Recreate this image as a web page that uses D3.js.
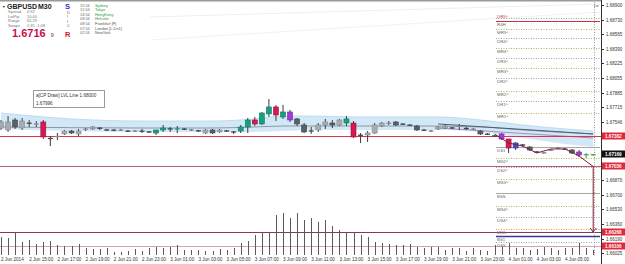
<!DOCTYPE html>
<html><head><meta charset="utf-8">
<script src="https://cdn.jsdelivr.net/npm/d3@7"></script>
<style>
body{margin:0;background:#fff;}
svg{display:block;font-family:"Liberation Sans",Arial,sans-serif;}
</style>
</head><body>
<svg id="c" width="625" height="264"></svg>
<script>
// ---------------- DATA ----------------
const opens  = [1.67474,1.67451,1.67567,1.67474,1.67532,1.67521,1.67544,1.67358,1.67370,1.67405,1.67439,1.67405,1.67457,1.67463,1.67474,1.67457,1.67451,1.67445,1.67439,1.67439,1.67439,1.67434,1.67416,1.67451,1.67469,1.67457,1.67463,1.67451,1.67445,1.67416,1.67451,1.67428,1.67445,1.67434,1.67439,1.67486,1.67567,1.67521,1.67637,1.67718,1.67602,1.67660,1.67579,1.67509,1.67445,1.67451,1.67509,1.67532,1.67509,1.67532,1.67532,1.67393,1.67393,1.67416,1.67497,1.67527,1.67544,1.67521,1.67509,1.67497,1.67451,1.67439,1.67463,1.67474,1.67480,1.67492,1.67474,1.67457,1.67439,1.67405,1.67387,1.67405,1.67347,1.67242,1.67283,1.67254,1.67202,1.67184,1.67213,1.67237,1.67231,1.67219,1.67196,1.67161,1.67161];
const highs  = [1.67567,1.67613,1.67590,1.67590,1.67567,1.67555,1.67567,1.67381,1.67416,1.67451,1.67451,1.67463,1.67474,1.67497,1.67486,1.67463,1.67463,1.67463,1.67451,1.67451,1.67463,1.67439,1.67451,1.67509,1.67486,1.67497,1.67474,1.67463,1.67451,1.67463,1.67463,1.67463,1.67451,1.67439,1.67509,1.67590,1.67602,1.67660,1.67810,1.67741,1.67741,1.67683,1.67590,1.67532,1.67486,1.67532,1.67579,1.67567,1.67579,1.67613,1.67555,1.67416,1.67439,1.67532,1.67544,1.67555,1.67555,1.67532,1.67521,1.67509,1.67463,1.67451,1.67497,1.67509,1.67486,1.67521,1.67486,1.67474,1.67451,1.67416,1.67393,1.67416,1.67347,1.67312,1.67289,1.67265,1.67207,1.67196,1.67231,1.67254,1.67242,1.67231,1.67219,1.67184,1.67173];
const lows   = [1.67451,1.67428,1.67463,1.67451,1.67486,1.67486,1.67347,1.67265,1.67335,1.67393,1.67405,1.67381,1.67439,1.67451,1.67451,1.67439,1.67439,1.67439,1.67428,1.67428,1.67416,1.67416,1.67393,1.67428,1.67428,1.67416,1.67451,1.67439,1.67428,1.67405,1.67405,1.67416,1.67428,1.67405,1.67416,1.67416,1.67497,1.67509,1.67602,1.67555,1.67579,1.67544,1.67497,1.67416,1.67405,1.67428,1.67463,1.67474,1.67497,1.67497,1.67358,1.67300,1.67312,1.67405,1.67486,1.67509,1.67497,1.67509,1.67497,1.67439,1.67439,1.67428,1.67451,1.67463,1.67463,1.67451,1.67451,1.67451,1.67393,1.67393,1.67370,1.67335,1.67184,1.67219,1.67254,1.67207,1.67184,1.67173,1.67207,1.67231,1.67219,1.67173,1.67138,1.67126,1.67149];
const closes = [1.67544,1.67544,1.67486,1.67555,1.67527,1.67521,1.67370,1.67347,1.67381,1.67439,1.67416,1.67439,1.67463,1.67486,1.67469,1.67445,1.67445,1.67451,1.67434,1.67439,1.67434,1.67422,1.67451,1.67474,1.67457,1.67469,1.67457,1.67451,1.67439,1.67451,1.67416,1.67451,1.67434,1.67422,1.67486,1.67567,1.67521,1.67648,1.67718,1.67625,1.67660,1.67567,1.67521,1.67428,1.67434,1.67509,1.67544,1.67509,1.67567,1.67579,1.67370,1.67387,1.67416,1.67509,1.67532,1.67532,1.67509,1.67515,1.67503,1.67451,1.67445,1.67439,1.67486,1.67497,1.67469,1.67497,1.67463,1.67463,1.67405,1.67399,1.67376,1.67347,1.67242,1.67300,1.67271,1.67219,1.67190,1.67190,1.67219,1.67242,1.67225,1.67184,1.67161,1.67167,1.67169];
const volumes = [720,680,880,520,600,440,520,560,400,360,360,440,280,240,240,280,120,120,160,240,160,280,320,280,320,400,200,200,200,160,160,240,200,280,480,560,800,880,920,1600,1680,1480,1680,1400,1480,1320,1400,1160,1000,880,920,800,720,520,480,440,400,400,440,320,280,320,320,200,280,280,160,280,200,160,400,320,480,280,280,200,240,320,280,200,280,280,480,280,200];
// special candle tones (index -> tone)
const candleTone = {6:'r',22:'t',23:'t',25:'t',34:'t',35:'t',36:'r',37:'t',38:'t',39:'r',40:'t',41:'p',49:'t',50:'r',71:'p',72:'r',73:'b',82:'p',83:'g',84:'g'};

// envelope band + averages (bar index, price)
const bandIdx   = [0,10,20,30,36,40,44,50,56,62,68,74,80,84];
const bandUpper = [1.67648,1.67579,1.67555,1.67555,1.67579,1.67613,1.67613,1.67602,1.67602,1.67602,1.67567,1.67509,1.67463,1.67439];
const bandLower = [1.67463,1.67439,1.67428,1.67428,1.67428,1.67439,1.67451,1.67451,1.67451,1.67451,1.67428,1.67358,1.67289,1.67254];
const maIdx     = [0,20,30,36,40,50,60,68,74,84];
const maValues  = [1.67486,1.67474,1.67474,1.67486,1.67497,1.67497,1.67497,1.67486,1.67451,1.67405];
const ma2Idx    = [62,84];
const ma2Values = [1.67521,1.67405];
const ma3Values = [1.67474,1.67358];

// trend path + arrow target
const trendIdx    = [70,72,74,76,78,80,82,84];
const trendPrices = [1.67405,1.67300,1.67265,1.67184,1.67231,1.67231,1.67149,1.67028];
const arrowEnd    = 1.66268;

const priceTicks = [1.68900,1.68730,1.68565,1.68390,1.68225,1.68055,1.67885,1.67715,1.67546,1.66870,1.66700,1.66530,1.66360,1.66190,1.66025];
const timeTickLabels = ["2 Jun 2014","2 Jun 15:00","2 Jun 17:00","2 Jun 19:00","2 Jun 21:00","2 Jun 23:00","3 Jun 01:00","3 Jun 03:00","3 Jun 05:00","3 Jun 07:00","3 Jun 09:00","3 Jun 11:00","3 Jun 13:00","3 Jun 15:00","3 Jun 17:00","3 Jun 19:00","3 Jun 21:00","3 Jun 23:00","4 Jun 01:00","4 Jun 03:00","4 Jun 05:00"];

const lineNames  = ["DR5^","R4H","MR5^","DR4^","MR4^","DR3^","MR3^","DR2^","MR2^","DR1^","MR1^","DS1","MS2^","DS2^","MS3^","BSS","MS4^","DS4^","MS5","BS1","DS5"];
const linePrices = [1.68749,1.68715,1.68622,1.68517,1.68402,1.68286,1.68170,1.68054,1.67903,1.67787,1.67648,1.67254,1.67126,1.67022,1.66883,1.66721,1.66570,1.66442,1.66302,1.66222,1.66152];

const hLinePrices = [1.67382,1.67036,1.66268,1.66106];
const tagPrices   = [1.67382,1.67169,1.67036,1.66268,1.66106];
const tagKinds    = ['red','black','red','red','red'];

const infoLabels = ["Spread","LotPip","Range","Swaps"];
const infoValues = ["0.92","10.00","65.29","0.35  -1.08"];
const sessTimes  = ["15:54","15:54","14:54","09:54","08:54","07:54","02:54"];
const sessNames  = ["Sydney","Tokyo","HongKong","Helsinki","Frankfurt  [F]","London  [L-Dn1]","NewYork"];
const sessOpen   = [true,true,true,true,false,false,false];

// ---------------- CHART ----------------
const svg = d3.select('#c');
svg.append('rect').attr('width',625).attr('height',264).attr('fill','#fff');

const t0 = new Date(2014,5,2,13,0);
const barTimes = opens.map((d,i)=>d3.timeMinute.offset(t0,30*i));
const x = d3.scaleTime().domain([barTimes[0],barTimes[barTimes.length-1]]).range([1,593.2]);
const xi = i => x(barTimes[i]);
const y = d3.scaleLinear().domain([1.66025,1.68900]).range([253,5]);
const vy = d3.scaleLinear().domain([0,2000]).range([255,205]);

// top border + faint guide lines
svg.append('line').attr('x1',0).attr('x2',601).attr('y1',0.8).attr('y2',0.8).attr('stroke','#9a9a9a').attr('stroke-width',1.6);
svg.append('line').attr('x1',150).attr('x2',600).attr('y1',17).attr('y2',4).attr('stroke','#efefef');
svg.append('line').attr('x1',150).attr('x2',600).attr('y1',40).attr('y2',12).attr('stroke','#f2f2f2');

// envelope band
const band = bandIdx.map((b,k)=>({b, u:bandUpper[k], l:bandLower[k]}));
svg.append('path').datum(band)
  .attr('d', d3.area().x(d=>xi(d.b)).y0(d=>y(d.l)).y1(d=>y(d.u)).curve(d3.curveMonotoneX))
  .attr('fill','#d3e8f6');
svg.append('path').datum(band)
  .attr('d', d3.line().x(d=>xi(d.b)).y(d=>y(d.u)).curve(d3.curveMonotoneX))
  .attr('fill','none').attr('stroke','#bcdcf0').attr('stroke-width',1);

const lineGen = d3.line().x(d=>xi(d[0])).y(d=>y(d[1])).curve(d3.curveMonotoneX);
svg.append('path').datum(maIdx.map((b,k)=>[b,maValues[k]])).attr('d',lineGen)
  .attr('fill','none').attr('stroke','#8a98a6').attr('stroke-width',1);
svg.append('path').datum(ma2Idx.map((b,k)=>[b,ma2Values[k]])).attr('d',lineGen)
  .attr('fill','none').attr('stroke','#4d5f70').attr('stroke-width',1);
svg.append('path').datum(ma2Idx.map((b,k)=>[b,ma3Values[k]])).attr('d',lineGen)
  .attr('fill','none').attr('stroke','#a58cc0').attr('stroke-width',1);

// full-width horizontal lines
const hColors = ['#d4384a','#b8606a','#8c3848','#d8a0b0'];
svg.selectAll('.hl').data(hLinePrices).join('line')
  .attr('x1',0).attr('x2',601).attr('y1',d=>Math.round(y(d))+0.5).attr('y2',d=>Math.round(y(d))+0.5)
  .attr('stroke',(d,i)=>hColors[i]).attr('stroke-width',1);

// pivot level lines
const lvX0 = 496, lvX1 = 600;
function levelStyle(n){
  if(n==='R4H') return {c:'#d03040',dash:null,w:1};
  if(n==='DS1'||n==='BSS') return {c:'#a8a8a8',dash:null,w:1};
  if(n==='BS1') return {c:'#3a3a9a',dash:null,w:1.5};
  if(n==='MS5') return {c:'#e0a040',dash:'1,1.5',w:1};
  if(n[0]==='M') return {c:'#b8b060',dash:'1,1.5',w:1};
  return {c:'#a0a0a0',dash:'1,1.5',w:1};
}
lineNames.forEach((n,k)=>{
  const s = levelStyle(n), yy = Math.round(y(linePrices[k]))+0.5;
  svg.append('line').attr('x1',lvX0).attr('x2',lvX1).attr('y1',yy).attr('y2',yy)
    .attr('stroke',s.c).attr('stroke-width',s.w).attr('stroke-dasharray',s.dash);
  const above = (n==='DR5^');
  svg.append('text').attr('x',lvX0+1).attr('y',above ? yy-0.8 : yy+4.6).text(n)
    .attr('font-size',4.4).attr('fill',above?'#c04050':'#666');
});

// volumes
svg.selectAll('.vol').data(volumes).join('line')
  .attr('x1',(d,i)=>Math.round(xi(i))+0.5).attr('x2',(d,i)=>Math.round(xi(i))+0.5)
  .attr('y1',vy(0)).attr('y2',d=>vy(d))
  .attr('stroke','#5a5a5a').attr('stroke-width',1);

// candles
const toneFill = {t:'#17a07f',r:'#d41a52',p:'#9b3fd6',b:'#3a55d8',g:'#45b050'};
const toneStroke = {t:'#0e7d62',r:'#a01040',p:'#7a2aaa',b:'#2a3fa8',g:'#2e8a3a'};
const candles = opens.map((o,i)=>({i,o,h:highs[i],l:lows[i],c:closes[i],tone:candleTone[i]}));
const cg = svg.append('g');
candles.forEach(d=>{
  const cx = xi(d.i);
  const up = d.c>=d.o;
  let fill = d.tone ? toneFill[d.tone] : (up ? '#a9aab2' : '#56616a');
  let stroke = d.tone ? toneStroke[d.tone] : (up ? '#8a8b94' : '#3e474e');
  const wick = d.tone==='g' ? '#3aa048' : '#3a3a3a';
  cg.append('line').attr('x1',cx).attr('x2',cx).attr('y1',y(d.h)).attr('y2',y(d.l)).attr('stroke',wick).attr('stroke-width',1);
  const top = y(Math.max(d.o,d.c)), bot = y(Math.min(d.o,d.c));
  if(bot-top < 1.2){
    cg.append('line').attr('x1',cx-2.5).attr('x2',cx+2.5).attr('y1',(top+bot)/2).attr('y2',(top+bot)/2)
      .attr('stroke',d.tone?fill:stroke).attr('stroke-width',1.3);
  } else {
    cg.append('rect').attr('x',cx-2.5).attr('y',top).attr('width',5).attr('height',bot-top)
      .attr('fill',fill).attr('stroke',stroke).attr('stroke-width',0.6);
  }
});

// trend path + arrow
const tpts = trendIdx.map((b,k)=>[xi(b),y(trendPrices[k])]);
svg.append('path').attr('d',d3.line()(tpts)).attr('fill','none').attr('stroke','#8a1a30').attr('stroke-width',1);
const ax = xi(trendIdx[trendIdx.length-1]);
svg.append('line').attr('x1',ax).attr('x2',ax).attr('y1',y(trendPrices[trendPrices.length-1])).attr('y2',y(arrowEnd))
  .attr('stroke','#8a1a30').attr('stroke-width',1);
svg.append('path').attr('d',`M${ax-3},${y(arrowEnd)-4}L${ax},${y(arrowEnd)}L${ax+3},${y(arrowEnd)-4}`)
  .attr('fill','none').attr('stroke','#8a1a30').attr('stroke-width',1);

// vertical dotted separator
svg.append('line').attr('x1',594.5).attr('x2',594.5).attr('y1',2).attr('y2',256)
  .attr('stroke','#9a9a9a').attr('stroke-dasharray','1,1.5');

// right price axis
svg.append('line').attr('x1',601.5).attr('x2',601.5).attr('y1',0).attr('y2',264).attr('stroke','#333');
const fmt = d3.format('.5f');
priceTicks.forEach(p=>{
  const yy = Math.round(y(p))+0.5;
  svg.append('line').attr('x1',601.5).attr('x2',604).attr('y1',yy).attr('y2',yy).attr('stroke','#333');
  svg.append('text').attr('x',606).attr('y',yy+1.6).text(fmt(p)).attr('font-size',4.5).attr('fill','#333');
});
svg.append('text').attr('x',594).attr('y',7).text('Lo').attr('font-size',4.2).attr('fill','#444');
tagPrices.forEach((p,k)=>{
  const yy = Math.round(y(p));
  svg.append('rect').attr('x',602).attr('y',yy-3.5).attr('width',23).attr('height',7)
    .attr('fill',tagKinds[k]==='red'?'#e02a3a':'#111');
  svg.append('text').attr('x',605).attr('y',yy+1.7).text(fmt(p)).attr('font-size',4.6).attr('font-weight','bold').attr('fill','#fff');
});

// time axis labels
timeTickLabels.forEach((lab,k)=>{
  const xx = xi(k*4);
  svg.append('text').attr('x',xx).attr('y',261).text(lab).attr('font-size',4.6).attr('fill','#333');
});

// header info panel
const hd = svg.append('g');
hd.append('text').attr('x',2).attr('y',7.5).text('▼').attr('font-size',3.6).attr('fill','#333');
hd.append('text').attr('x',7).attr('y',8.5).text('GBPUSD').attr('font-size',7).attr('font-weight','bold').attr('fill','#222');
hd.append('text').attr('x',38).attr('y',8.5).text('M30').attr('font-size',7).attr('font-weight','bold').attr('fill','#222');
hd.append('text').attr('x',65).attr('y',8.5).text('S').attr('font-size',7.5).attr('font-weight','bold').attr('fill','#2a36c0');
infoLabels.forEach((l,k)=>{
  hd.append('text').attr('x',8).attr('y',13+k*4.6).text(l).attr('font-size',4).attr('fill','#777');
  hd.append('text').attr('x',27).attr('y',13+k*4.6).text(infoValues[k]).attr('font-size',4).attr('fill','#777');
});
['D','I','I','C'].forEach((l,k)=>{
  hd.append('text').attr('x',67).attr('y',13.5+k*4.6).text(l).attr('font-size',4).attr('fill','#a04060');
});
hd.append('text').attr('x',12).attr('y',37).text('1.6716').attr('font-size',11).attr('font-weight','bold').attr('fill','#c8104a');
hd.append('text').attr('x',50.5).attr('y',37).text('9').attr('font-size',6).attr('fill','#803040');
hd.append('text').attr('x',65).attr('y',37).text('R').attr('font-size',7.5).attr('font-weight','bold').attr('fill','#d0103a');
sessTimes.forEach((t,k)=>{
  hd.append('text').attr('x',80).attr('y',6.5+k*4.65).text(t).attr('font-size',3.9).attr('fill','#666');
  hd.append('text').attr('x',95).attr('y',6.5+k*4.65).text(sessNames[k]).attr('font-size',3.9)
    .attr('fill',sessOpen[k]?'#2e9a3e':'#555');
});

// tooltip
const tt = svg.append('g');
tt.append('rect').attr('x',33.5).attr('y',90.5).attr('width',71).attr('height',17).attr('fill','#fff').attr('stroke','#9a9a9a');
tt.append('text').attr('x',36).attr('y',97).text('a[CP Draw] LVL Line 1.68000').attr('font-size',4.6).attr('fill','#333');
tt.append('text').attr('x',36).attr('y',104.5).text('1.67996').attr('font-size',4.6).attr('fill','#333');
</script>
</body></html>
